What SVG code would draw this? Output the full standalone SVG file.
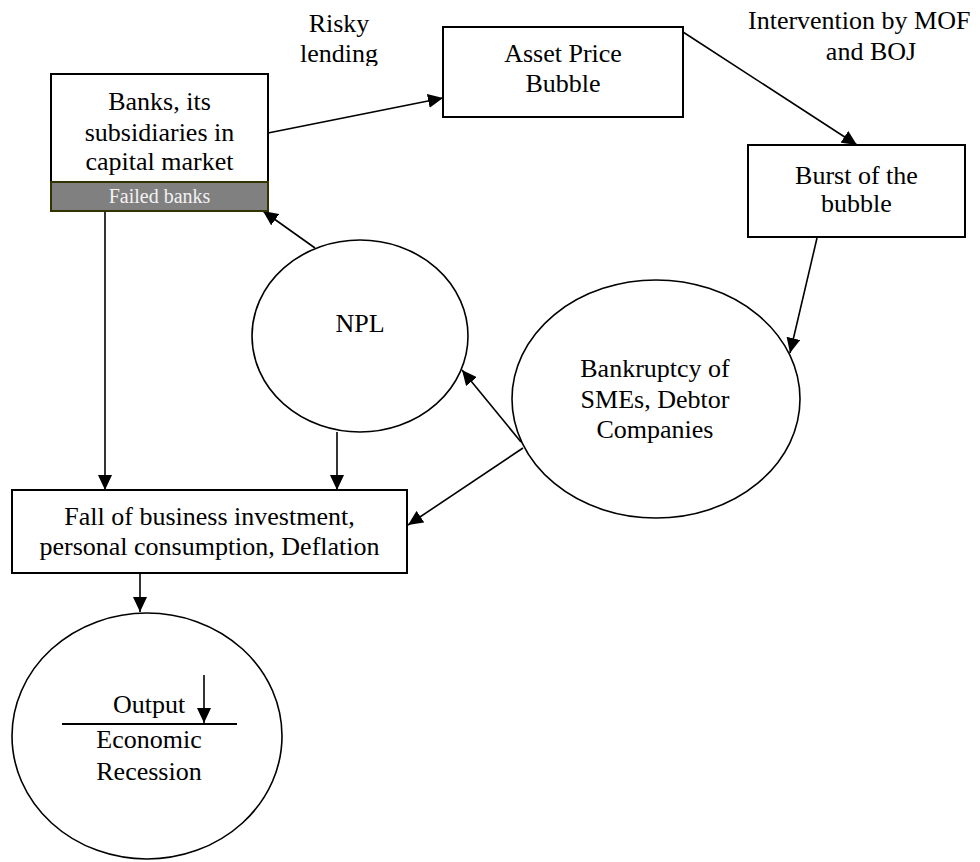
<svg xmlns="http://www.w3.org/2000/svg" width="980" height="862" viewBox="0 0 980 862">
<style>
  text { font-family: "Liberation Serif", "Times New Roman", serif; font-size: 26px; fill: #000; }
  .c { text-anchor: middle; }
  .box { fill: #fff; stroke: #000; stroke-width: 2; }
  .ell { fill: #fff; stroke: #000; stroke-width: 1.6; }
  .edge { stroke: #000; stroke-width: 1.6; fill: none; marker-end: url(#arr); }
  .strip { fill: #808080; stroke: #333300; stroke-width: 2; }
  .small { font-size: 20px; fill: #f2f2f2; }
</style>
<defs>
  <marker id="arr" markerWidth="16" markerHeight="14" refX="15" refY="7" orient="auto" markerUnits="userSpaceOnUse">
    <path d="M0,0 L15,7 L0,14 Z" fill="#000"/>
  </marker>
  <clipPath id="riskyClip"><rect x="280" y="0" width="120" height="66"/></clipPath>
</defs>
<rect width="980" height="862" fill="#fff"/>

<g id="label-risky" clip-path="url(#riskyClip)">
  <text class="c" x="339" y="32">Risky</text>
  <text class="c" x="339" y="62">lending</text>
</g>
<g id="label-intervention">
  <text x="748" y="29">Intervention by MOF</text>
  <text class="c" x="871" y="60">and BOJ</text>
</g>

<g id="connectors">
  <line class="edge" x1="268" y1="133" x2="443" y2="98"/>
  <line class="edge" x1="683" y1="32" x2="857" y2="145"/>
  <line class="edge" x1="817" y1="238" x2="790" y2="353"/>
  <line class="edge" x1="521" y1="442" x2="462" y2="370"/>
  <line class="edge" x1="523" y1="448" x2="408" y2="525"/>
  <line class="edge" x1="315" y1="248" x2="263" y2="211"/>
  <line class="edge" x1="105" y1="212" x2="105" y2="490"/>
  <line class="edge" x1="337" y1="432" x2="337" y2="490"/>
  <line class="edge" x1="140" y1="574" x2="140" y2="612"/>
</g>

<g id="node-banks">
  <rect class="box" x="51" y="74" width="217" height="137"/>
  <text class="c" x="159.5" y="110">Banks, its</text>
  <text class="c" x="159.5" y="141">subsidiaries in</text>
  <text class="c" x="159.5" y="170">capital market</text>
  <rect class="strip" x="51" y="182" width="217" height="29"/>
  <text class="c small" x="159.5" y="203">Failed banks</text>
</g>

<g id="node-asset">
  <rect class="box" x="443" y="27" width="240" height="90"/>
  <text class="c" x="563" y="62">Asset Price</text>
  <text class="c" x="563" y="92">Bubble</text>
</g>

<g id="node-burst">
  <rect class="box" x="748" y="145" width="217" height="92"/>
  <text class="c" x="856.5" y="184">Burst of the</text>
  <text class="c" x="856.5" y="212">bubble</text>
</g>

<g id="node-npl">
  <ellipse class="ell" cx="360" cy="336" rx="108" ry="96"/>
  <text class="c" x="360" y="332">NPL</text>
</g>

<g id="node-bankruptcy">
  <ellipse class="ell" cx="656" cy="399" rx="144" ry="119"/>
  <text class="c" x="655" y="377">Bankruptcy of</text>
  <text class="c" x="655" y="408">SMEs, Debtor</text>
  <text class="c" x="655" y="438">Companies</text>
</g>

<g id="node-fall">
  <rect class="box" x="12" y="490" width="395" height="83"/>
  <text class="c" x="209.5" y="525">Fall of business investment,</text>
  <text class="c" x="209.5" y="555">personal consumption, Deflation</text>
</g>

<g id="node-recession">
  <ellipse class="ell" cx="147" cy="736" rx="135" ry="123"/>
  <text x="113" y="713">Output</text>
  <line x1="204" y1="675" x2="204" y2="723" stroke="#000" stroke-width="1.6" marker-end="url(#arr)"/>
  <line x1="62" y1="724" x2="237" y2="724" stroke="#000" stroke-width="2"/>
  <text class="c" x="149" y="748">Economic</text>
  <text class="c" x="149" y="780">Recession</text>
</g>
</svg>
